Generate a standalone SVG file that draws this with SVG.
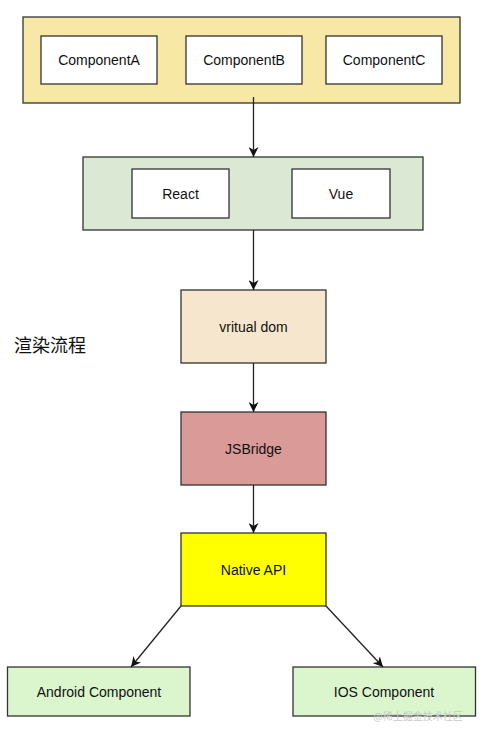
<svg xmlns="http://www.w3.org/2000/svg" width="480" height="736" viewBox="0 0 480 736">
<style>
.box{stroke:#333;stroke-width:1.3}
.t{font-family:"Liberation Sans",Arial,sans-serif;font-size:14px;fill:#111;text-anchor:middle;dominant-baseline:central}
.c{stroke:#222;stroke-width:1.3;fill:none}
</style>
<defs>
<marker id="ah" viewBox="0 0 10 10" refX="10" refY="5" markerWidth="10" markerHeight="10" markerUnits="userSpaceOnUse" orient="auto">
<path d="M0,0 L10,5 L0,10 L3,5 z" fill="#111"/>
</marker>
</defs>
<rect width="480" height="736" fill="#fff"/>
<g id="frameworks-layer">
<rect class="box" x="23" y="17" width="437" height="86" fill="#f8e8a6"/>
</g>
<g id="componentA"><rect class="box" x="41" y="36" width="116" height="48" fill="#fff"/><text class="t" x="99" y="60">ComponentA</text></g>
<g id="componentB"><rect class="box" x="186" y="36" width="116" height="48" fill="#fff"/><text class="t" x="244" y="60">ComponentB</text></g>
<g id="componentC"><rect class="box" x="326" y="36" width="116" height="48" fill="#fff"/><text class="t" x="384" y="60">ComponentC</text></g>
<g id="framework-layer"><rect class="box" x="83" y="157" width="340" height="73" fill="#dbe9d4"/></g>
<g id="react"><rect class="box" x="132" y="169" width="97" height="49" fill="#fff"/><text class="t" x="180.5" y="193.5">React</text></g>
<g id="vue"><rect class="box" x="292" y="169" width="98" height="49" fill="#fff"/><text class="t" x="341" y="193.5">Vue</text></g>
<g id="vdom"><rect class="box" x="181" y="290" width="145" height="73" fill="#f6e6cd"/><text class="t" x="253.5" y="326.5">vritual dom</text></g>
<g id="jsbridge"><rect class="box" x="181" y="412" width="145" height="73" fill="#da9a98"/><text class="t" x="253.5" y="448.5">JSBridge</text></g>
<g id="nativeapi"><rect class="box" x="181" y="533" width="145" height="73" fill="#ffff00"/><text class="t" x="253.5" y="569.5">Native API</text></g>
<g id="android"><rect class="box" x="7.5" y="667" width="182.5" height="49" fill="#dbf5cd"/><text class="t" x="99" y="691.5">Android Component</text></g>
<g id="ios"><rect class="box" x="293" y="667" width="182.5" height="49" fill="#dbf5cd"/><text class="t" x="384" y="691.5">IOS Component</text></g>
<g id="connectors">
<line class="c" x1="253.5" y1="97" x2="253.5" y2="157" marker-end="url(#ah)"/>
<line class="c" x1="253.5" y1="230" x2="253.5" y2="290" marker-end="url(#ah)"/>
<line class="c" x1="253.5" y1="363" x2="253.5" y2="412" marker-end="url(#ah)"/>
<line class="c" x1="253.5" y1="485" x2="253.5" y2="533" marker-end="url(#ah)"/>
<line class="c" x1="181" y1="606" x2="131" y2="667" marker-end="url(#ah)"/>
<line class="c" x1="326" y1="606" x2="383" y2="667" marker-end="url(#ah)"/>
</g>
<g id="label">
<text x="14" y="352" style="font-family:'Noto Sans CJK SC','Noto Sans',sans-serif;font-size:18px;fill:#111">渲染流程</text>
</g>
<g id="watermark">
<text x="418" y="720" style="font-family:'Noto Sans CJK SC',sans-serif;font-size:10px;fill:#c8c8c8;text-anchor:middle">@稀土掘金技术社区</text>
</g>
</svg>
